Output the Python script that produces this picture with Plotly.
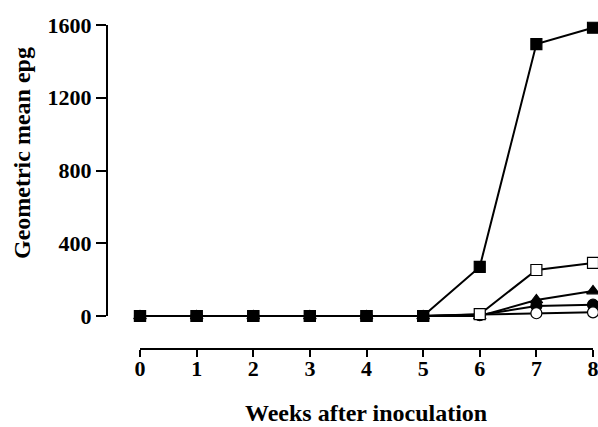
import plotly.graph_objects as go

weeks = [0, 1, 2, 3, 4, 5, 6, 7, 8]
filled_square = [0, 0, 0, 0, 0, 0, 270, 1495, 1585]
open_square = [0, 0, 0, 0, 0, 0, 10, 253, 292]
filled_triangle = [0, 0, 0, 0, 0, 0, 0, 88, 137]
filled_circle = [0, 0, 0, 0, 0, 0, 5, 55, 62]
open_circle = [0, 0, 0, 0, 0, 0, 8, 15, 20]
y_ticks = [0, 400, 800, 1200, 1600]

FONT = "Liberation Serif"

series = [
    (filled_circle, "circle", "black"),
    (filled_triangle, "triangle-up", "black"),
    (open_circle, "circle", "white"),
    (open_square, "square", "white"),
    (filled_square, "square", "black"),
]

fig = go.Figure()
for vals, sym, fill in series:
    fig.add_trace(go.Scatter(
        x=weeks, y=vals, mode="lines+markers",
        line=dict(color="black", width=2),
        marker=dict(symbol=sym, size=11, color=fill,
                    line=dict(color="black", width=1.2)),
        cliponaxis=False, showlegend=False,
    ))

L, R, T, B = 107, 594, 15, 349
W = R - L
H = B - T
px_x = (593 - 140) / 8
px_y = (316 - 25) / 1600

fig.update_layout(
    width=598, height=427,
    margin=dict(l=L, r=598 - R, t=T, b=427 - B),
    plot_bgcolor="white", paper_bgcolor="white",
    xaxis=dict(range=[-(140 - L) / px_x, 8 + (R - 593) / px_x], tickvals=weeks,
               ticks="outside", ticklen=7, tickwidth=2, tickcolor="black",
               showline=False, showgrid=False, zeroline=False, automargin=False,
               ticklabeloverflow="allow", ticklabelstandoff=-7,
               tickfont=dict(family=FONT, size=22, color="black", weight="bold")),
    yaxis=dict(range=[-(B - 316) / px_y, 1600 + (25 - T) / px_y], tickvals=y_ticks,
               ticks="outside", ticklen=10, tickwidth=2, tickcolor="black",
               showline=False, showgrid=False, zeroline=False, automargin=False,
               tickfont=dict(family=FONT, size=22, color="black", weight="bold")),
    shapes=[
        dict(type="line", xref="paper", yref="y", x0=0, x1=0, y0=0, y1=1600,
             line=dict(color="black", width=2)),
        dict(type="line", xref="x", yref="paper", x0=0, x1=8, y0=0, y1=0,
             line=dict(color="black", width=2)),
    ],
    annotations=[
        dict(text="Weeks after inoculation", xref="paper", yref="paper",
             x=(366 - L) / W, y=-(413 - B) / H, showarrow=False,
             font=dict(family=FONT, size=24, color="black", weight="bold"),
             xanchor="center", yanchor="middle"),
        dict(text="Geometric mean epg", xref="paper", yref="paper",
             x=-(L - 22) / W, y=(B - 153) / H, showarrow=False,
             textangle=-90,
             font=dict(family=FONT, size=24, color="black", weight="bold"),
             xanchor="center", yanchor="middle"),
    ],
)

fig.write_html("out.html")
